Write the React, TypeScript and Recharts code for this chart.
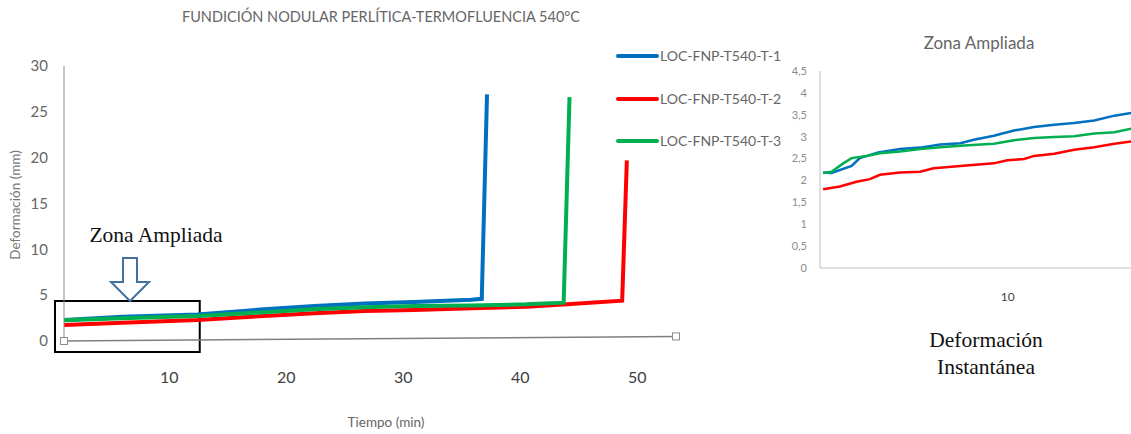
import React from 'react';
import {
  LineChart,
  Line,
  XAxis,
  YAxis,
  ReferenceLine,
  ReferenceArea,
  ReferenceDot,
} from 'recharts';

// Series colours (Excel default-ish)
const BLUE = '#0070C0';
const RED = '#FF0000';
const GREEN = '#00B050';
const FONT = 'Lato, "Open Sans", sans-serif';
const SERIF = '"Liberation Serif", "DejaVu Serif", serif';

const seriesNames = ['LOC-FNP-T540-T-1', 'LOC-FNP-T540-T-2', 'LOC-FNP-T540-T-3'];

// Main chart: tiempo (min) vs deformación (mm)
const blueTime = [1, 6, 12.4, 18.1, 22.4, 26.7, 30.9, 35.8, 36.7, 37.15];
const blueDef = [2.3, 2.65, 2.9, 3.46, 3.82, 4.1, 4.25, 4.5, 4.6, 26.9];
const redTime = [1, 6, 12.4, 18.1, 22.4, 26.7, 30.9, 35.8, 40.5, 44, 48.7, 49.1];
const redDef = [1.75, 2.0, 2.3, 2.73, 3.04, 3.26, 3.38, 3.58, 3.74, 4.0, 4.4, 19.7];
const greenTime = [1, 6, 12.4, 18.1, 22.4, 26.7, 30.9, 35.8, 40.5, 43.7, 44.2];
const greenDef = [2.25, 2.47, 2.73, 3.13, 3.46, 3.67, 3.82, 3.88, 4.0, 4.18, 26.6];

const mainYTicks = [0, 5, 10, 15, 20, 25, 30];
const mainXTicks = [10, 20, 30, 40, 50];

// Zoomed chart ("Zona Ampliada")
const zBlueTime = [1, 1.41, 2.39, 2.79, 3.69, 4.75, 5.73, 6.71, 7.69, 8.34, 9.32, 10.3, 11.28, 12.26, 13.23, 14.21, 15.19, 16.01];
const zBlueDef = [2.18, 2.17, 2.33, 2.51, 2.64, 2.72, 2.75, 2.82, 2.85, 2.93, 3.02, 3.14, 3.22, 3.27, 3.31, 3.37, 3.48, 3.54];
const zRedTime = [1, 1.82, 2.63, 3.28, 3.77, 4.75, 5.73, 6.38, 7.69, 9.32, 9.97, 10.79, 11.28, 12.26, 13.23, 14.21, 15.19, 16.01];
const zRedDef = [1.8, 1.86, 1.97, 2.03, 2.13, 2.18, 2.2, 2.28, 2.33, 2.39, 2.46, 2.49, 2.56, 2.61, 2.7, 2.76, 2.84, 2.89];
const zGreenTime = [1, 1.41, 1.98, 2.39, 3.12, 3.77, 4.75, 5.73, 6.71, 7.69, 8.67, 9.32, 10.3, 11.28, 12.26, 13.23, 14.21, 15.19, 16.01];
const zGreenDef = [2.17, 2.2, 2.39, 2.51, 2.56, 2.62, 2.66, 2.72, 2.76, 2.79, 2.82, 2.84, 2.92, 2.97, 2.99, 3.01, 3.07, 3.1, 3.18];

const zoomYTicks = [0, 0.5, 1, 1.5, 2, 2.5, 3, 3.5, 4, 4.5];
const zoomXTicks = [10];

function toPoints(t: number[], v: number[]) {
  return t.map((x, i) => ({ t: x, v: v[i] }));
}

const EndSquare = (props: any) => (
  <rect x={props.cx - 3.5} y={props.cy - 3.5} width={7} height={7} fill="#fff" stroke="#8c8c8c" strokeWidth={1} />
);

function MainChart() {
  const series = [
    { name: seriesNames[0], color: BLUE, data: toPoints(blueTime, blueDef) },
    { name: seriesNames[1], color: RED, data: toPoints(redTime, redDef) },
    { name: seriesNames[2], color: GREEN, data: toPoints(greenTime, greenDef) },
  ];
  return (
    <LineChart width={700} height={434} margin={{ top: 66, right: 24, bottom: 33, left: 0 }}>
      <XAxis
        dataKey="t"
        type="number"
        domain={[1, 53.3]}
        ticks={mainXTicks}
        allowDataOverflow
        axisLine={false}
        tickLine={false}
        tickMargin={25}
        height={60}
        tick={{ fill: '#404040', fontSize: 16, fontFamily: FONT }}
      />
      <YAxis
        type="number"
        domain={[0, 30]}
        ticks={mainYTicks}
        width={64}
        tickLine={false}
        tickMargin={10}
        axisLine={{ stroke: '#8c8c8c', strokeWidth: 1 }}
        tick={{ fill: '#666', fontSize: 15, fontFamily: FONT }}
      />
      <ReferenceLine
        segment={[{ x: 1, y: 0 }, { x: 53.3, y: 0.5 }]}
        stroke="#7f7f7f"
        strokeWidth={1.5}
        ifOverflow="visible"
      />
      <ReferenceDot x={1} y={0} r={4} shape={EndSquare} ifOverflow="visible" />
      <ReferenceDot x={53.3} y={0.5} r={4} shape={EndSquare} ifOverflow="visible" />
      {series.map(s => (
        <Line
          key={s.name}
          data={s.data}
          dataKey="v"
          name={s.name}
          type="linear"
          stroke={s.color}
          strokeWidth={4}
          dot={false}
          isAnimationActive={false}
        />
      ))}
      <ReferenceArea
        x1={0.23}
        x2={12.6}
        y1={-1.2}
        y2={4.36}
        stroke="#000"
        strokeWidth={2}
        fill="none"
        fillOpacity={0}
        ifOverflow="visible"
      />
    </LineChart>
  );
}

function ZoomChart() {
  const series = [
    { name: seriesNames[0], color: BLUE, data: toPoints(zBlueTime, zBlueDef) },
    { name: seriesNames[1], color: RED, data: toPoints(zRedTime, zRedDef) },
    { name: seriesNames[2], color: GREEN, data: toPoints(zGreenTime, zGreenDef) },
  ];
  return (
    <LineChart width={371} height={434} margin={{ top: 71, right: 0, bottom: 136, left: 0 }}>
      <XAxis
        dataKey="t"
        type="number"
        domain={[0.85, 16]}
        ticks={zoomXTicks}
        allowDataOverflow
        height={30}
        tickLine={false}
        tickMargin={18}
        axisLine={{ stroke: '#bfbfbf', strokeWidth: 1 }}
        tick={{ fill: '#404040', fontSize: 12, fontFamily: FONT }}
      />
      <YAxis
        type="number"
        domain={[0, 4.5]}
        ticks={zoomYTicks}
        width={60}
        tickLine={false}
        tickMargin={7}
        axisLine={{ stroke: '#bfbfbf', strokeWidth: 1 }}
        tickFormatter={(v: number) => String(v).replace('.', ',')}
        tick={{ fill: '#8c8c8c', fontSize: 11, fontFamily: FONT }}
      />
      {series.map(s => (
        <Line
          key={s.name}
          data={s.data}
          dataKey="v"
          name={s.name}
          type="linear"
          stroke={s.color}
          strokeWidth={2.5}
          dot={false}
          isAnimationActive={false}
        />
      ))}
    </LineChart>
  );
}

export default function App() {
  const legendColors = [BLUE, RED, GREEN];
  const legendY = [56, 99, 141];
  return (
    <div style={{ position: 'absolute', left: 0, top: 0, width: 1131, height: 434, overflow: 'hidden', background: '#fff' }}>
      <div style={{ position: 'absolute', left: 0, top: 0 }}>
        <MainChart />
      </div>
      <div style={{ position: 'absolute', left: 760, top: 0 }}>
        <ZoomChart />
      </div>
      <svg width={1131} height={434} style={{ position: 'absolute', left: 0, top: 0, pointerEvents: 'none' }}>
        <text x={381} y={22} textAnchor="middle" fontFamily={FONT} fontSize={14.5} fill="#666">
          FUNDICIÓN NODULAR PERLÍTICA-TERMOFLUENCIA 540°C
        </text>
        <text
          x={20}
          y={205}
          transform="rotate(-90 20 205)"
          textAnchor="middle"
          fontFamily={FONT}
          fontSize={13.5}
          fill="#777"
        >
          Deformación (mm)
        </text>
        <text x={386} y={427} textAnchor="middle" fontFamily={FONT} fontSize={13.5} fill="#666">
          Tiempo (min)
        </text>
        {seriesNames.map((n, i) => (
          <g key={n}>
            <line x1={618} x2={657} y1={legendY[i]} y2={legendY[i]} stroke={legendColors[i]} strokeWidth={4} strokeLinecap="round" />
            <text x={660} y={legendY[i] + 5} fontFamily={FONT} fontSize={14} fill="#666">
              {n}
            </text>
          </g>
        ))}
        <text x={979} y={49} textAnchor="middle" fontFamily={FONT} fontSize={17} fill="#666">
          Zona Ampliada
        </text>
        <text x={156} y={242} textAnchor="middle" fontFamily={SERIF} fontSize={21.5} fill="#111">
          Zona Ampliada
        </text>
        <polygon
          points="123,258 137,258 137,282 149,282 130,301 111,282 123,282"
          fill="#fff"
          stroke="#41719C"
          strokeWidth={2}
          strokeLinejoin="miter"
        />
        <text x={986} y={347} textAnchor="middle" fontFamily={SERIF} fontSize={21.5} fill="#111">
          Deformación
        </text>
        <text x={986} y={374} textAnchor="middle" fontFamily={SERIF} fontSize={21.5} fill="#111">
          Instantánea
        </text>
      </svg>
    </div>
  );
}
